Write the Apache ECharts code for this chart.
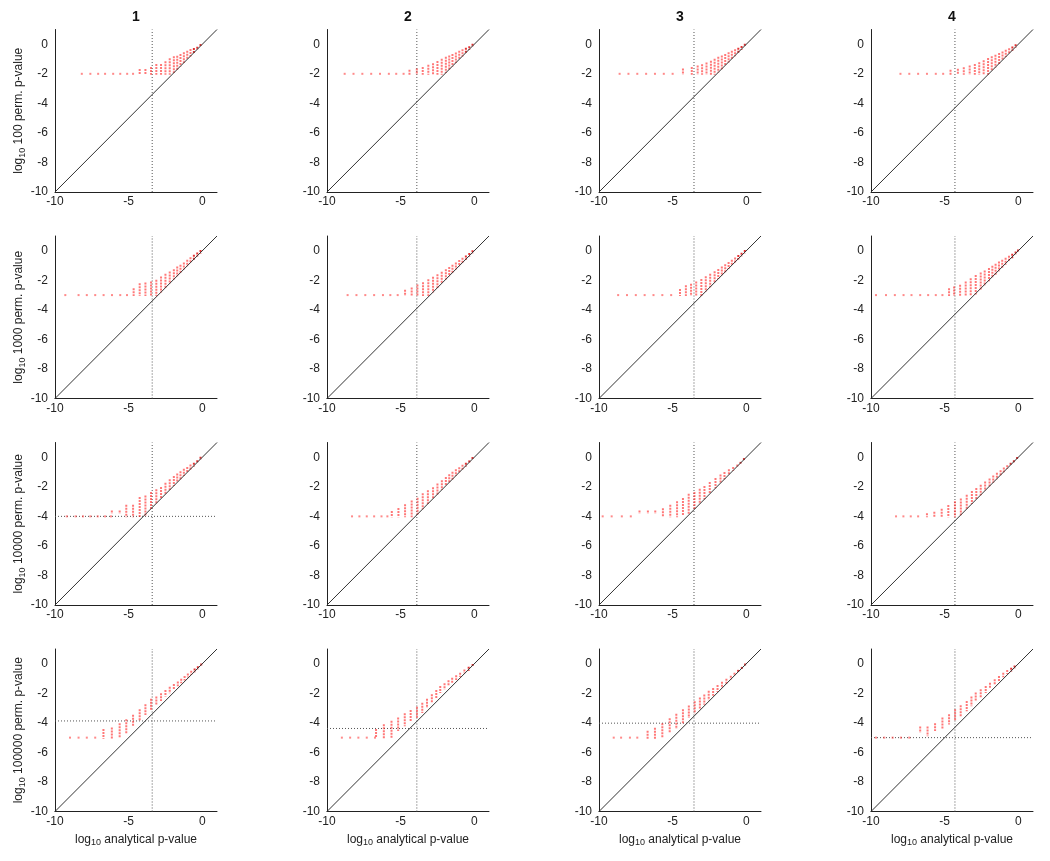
<!DOCTYPE html>
<html>
<head>
<meta charset="utf-8">
<script src="https://cdn.jsdelivr.net/npm/echarts@6/dist/echarts.min.js"></script>
<style>html,body{margin:0;padding:0;background:#fff}#c{width:1050px;height:861px}</style>
</head>
<body>
<div id="c"></div>
<script>
// ---------- data ----------
const colTitles = ['1', '2', '3', '4'];
const permLabels = ['100', '1000', '10000', '100000'];
const xTicks = [-10, -5, 0];
const yTicks = [-10, -8, -6, -4, -2, 0];
const floorY = [-2, -3, -4, -5];               // log10(1/N) per row
const vLineX = [-3.4, -3.9, -3.55, -4.3];      // vertical dotted line per column
const hLineY = [                               // horizontal dotted line per panel (null = none)
  [null, null, null, null],
  [null, null, null, null],
  [-4.0, null, null, null],
  [-3.87, -4.38, -4.02, -5.0]
];
const diagLine = [[-10, -10], [1, 1]];

// Row 1 (100 permutations)
const r1c1_x  = [-4.25,-3.86,-3.48,-3.12,-2.8,-2.5,-2.21,-1.93,-1.7,-1.48,-1.25,-1.02,-0.8,-0.57,-0.34,-0.12];
const r1c1_lo = [-2,-2,-2,-2,-2,-2,-2,-1.88,-1.65,-1.44,-1.2,-0.98,-0.76,-0.54,-0.32,-0.12];
const r1c1_hi = [-1.74,-1.74,-1.6,-1.4,-1.4,-1.22,-1.02,-0.88,-0.84,-0.72,-0.61,-0.5,-0.39,-0.32,-0.23,-0.05];
const r1c1_fx = [-8.18,-7.6,-7.07,-6.6,-6.05,-5.57,-5.1,-4.7];

const r1c2_x  = [-4.4,-3.9,-3.5,-3.12,-2.8,-2.5,-2.21,-1.93,-1.7,-1.48,-1.25,-1.02,-0.8,-0.57,-0.34,-0.12];
const r1c2_lo = [-2,-2,-2,-2,-2,-2,-2,-1.88,-1.65,-1.44,-1.2,-0.98,-0.76,-0.54,-0.32,-0.12];
const r1c2_hi = [-1.8,-1.7,-1.6,-1.45,-1.35,-1.2,-1.05,-0.92,-0.82,-0.72,-0.62,-0.5,-0.4,-0.3,-0.2,-0.04];
const r1c2_fx = [-8.8,-8.2,-7.6,-7.0,-6.4,-5.8,-5.3,-4.8];

const r1c3_x  = [-4.3,-3.7,-3.3,-3.0,-2.7,-2.4,-2.15,-1.9,-1.66,-1.43,-1.2,-0.98,-0.76,-0.54,-0.32,-0.1];
const r1c3_lo = [-2,-2,-2,-2,-2,-2,-2,-1.85,-1.62,-1.4,-1.17,-0.95,-0.74,-0.52,-0.31,-0.1];
const r1c3_hi = [-1.7,-1.6,-1.5,-1.42,-1.3,-1.18,-1.05,-0.92,-0.82,-0.72,-0.6,-0.5,-0.4,-0.3,-0.18,-0.03];
const r1c3_fx = [-8.6,-8.0,-7.4,-6.8,-6.2,-5.6,-5.0];

const r1c4_x  = [-4.6,-4.1,-3.7,-3.3,-2.95,-2.65,-2.35,-2.05,-1.8,-1.55,-1.3,-1.07,-0.85,-0.62,-0.4,-0.18];
const r1c4_lo = [-2,-2,-2,-2,-2,-2,-2,-2,-1.75,-1.5,-1.26,-1.03,-0.8,-0.58,-0.37,-0.16];
const r1c4_hi = [-1.8,-1.72,-1.62,-1.5,-1.4,-1.28,-1.15,-1.0,-0.88,-0.78,-0.66,-0.55,-0.44,-0.33,-0.22,-0.06];
const r1c4_fx = [-8.0,-7.4,-6.8,-6.2,-5.6,-5.1];

// Row 2 (1000 permutations)
const r2c1_x  = [-4.66,-4.25,-3.86,-3.48,-3.12,-2.8,-2.5,-2.21,-1.93,-1.7,-1.48,-1.25,-1.02,-0.8,-0.57,-0.34,-0.12];
const r2c1_lo = [-3,-3,-3,-3,-3,-2.75,-2.45,-2.16,-1.88,-1.65,-1.44,-1.2,-0.98,-0.76,-0.54,-0.32,-0.12];
const r2c1_hi = [-2.6,-2.26,-2.21,-2.15,-2.03,-1.81,-1.63,-1.47,-1.31,-1.13,-1.02,-0.86,-0.68,-0.5,-0.34,-0.18,-0.02];
const r2c1_fx = [-9.3,-8.4,-7.84,-7.27,-6.7,-6.13,-5.57,-5.11];

const r2c2_x  = [-4.7,-4.25,-3.86,-3.48,-3.12,-2.8,-2.5,-2.21,-1.93,-1.7,-1.48,-1.25,-1.02,-0.8,-0.57,-0.34,-0.12];
const r2c2_lo = [-3,-3,-3,-3,-3,-2.75,-2.45,-2.16,-1.88,-1.65,-1.44,-1.2,-0.98,-0.76,-0.54,-0.32,-0.12];
const r2c2_hi = [-2.7,-2.55,-2.35,-2.2,-2.0,-1.82,-1.65,-1.48,-1.32,-1.16,-1.02,-0.86,-0.7,-0.54,-0.38,-0.22,-0.03];
const r2c2_fx = [-8.6,-8.0,-7.4,-6.8,-6.2,-5.7,-5.2];

const r2c3_x  = [-4.5,-4.1,-3.75,-3.4,-3.05,-2.75,-2.45,-2.15,-1.9,-1.66,-1.43,-1.2,-0.98,-0.76,-0.54,-0.32,-0.1];
const r2c3_lo = [-3,-3,-3,-3,-3,-2.7,-2.4,-2.1,-1.85,-1.62,-1.4,-1.17,-0.95,-0.74,-0.52,-0.31,-0.1];
const r2c3_hi = [-2.65,-2.4,-2.3,-2.15,-1.98,-1.8,-1.62,-1.45,-1.3,-1.14,-0.98,-0.83,-0.68,-0.52,-0.36,-0.2,-0.02];
const r2c3_fx = [-8.7,-8.1,-7.5,-6.9,-6.3,-5.7,-5.1];

const r2c4_x  = [-4.7,-4.36,-3.95,-3.57,-3.23,-2.89,-2.55,-2.28,-1.99,-1.76,-1.54,-1.31,-1.09,-0.86,-0.63,-0.41,-0.18,-0.02];
const r2c4_lo = [-3,-3,-3,-3,-3,-2.9,-2.55,-2.3,-2.0,-1.78,-1.55,-1.32,-1.1,-0.88,-0.65,-0.43,-0.2,-0.04];
const r2c4_hi = [-2.6,-2.49,-2.37,-2.15,-1.92,-1.7,-1.54,-1.4,-1.24,-1.08,-0.95,-0.79,-0.68,-0.54,-0.41,-0.27,-0.11,0.02];
const r2c4_fx = [-9.66,-8.98,-8.38,-7.79,-7.25,-6.66,-6.12,-5.6,-5.15];

// Row 3 (10000 permutations)
const r3c1_x  = [-6.14,-5.61,-5.16,-4.7,-4.25,-3.86,-3.48,-3.12,-2.8,-2.5,-2.21,-1.93,-1.7,-1.48,-1.25,-1.02,-0.8,-0.57,-0.34,-0.12];
const r3c1_lo = [-3.75,-3.75,-4.0,-4.0,-4.0,-3.9,-3.5,-3.1,-2.75,-2.45,-2.15,-1.88,-1.62,-1.42,-1.2,-0.98,-0.76,-0.55,-0.33,-0.12];
const r3c1_hi = [-3.67,-3.67,-3.28,-3.28,-2.76,-2.65,-2.42,-2.24,-2.08,-1.79,-1.56,-1.33,-1.17,-1.02,-0.84,-0.72,-0.56,-0.43,-0.27,-0.04];
const r3c1_fx = [-9.2,-8.6,-8.1,-7.6,-7.1,-6.6,-6.2];

const r3c2_x  = [-5.6,-5.15,-4.7,-4.25,-3.85,-3.5,-3.15,-2.8,-2.5,-2.2,-1.93,-1.7,-1.48,-1.25,-1.02,-0.8,-0.57,-0.34,-0.12];
const r3c2_lo = [-4,-4,-4,-4,-3.8,-3.45,-3.1,-2.75,-2.45,-2.15,-1.88,-1.65,-1.44,-1.2,-0.98,-0.76,-0.55,-0.33,-0.12];
const r3c2_hi = [-3.7,-3.5,-3.25,-3.0,-2.8,-2.5,-2.3,-2.1,-1.85,-1.62,-1.4,-1.22,-1.05,-0.88,-0.74,-0.58,-0.44,-0.28,-0.05];
const r3c2_fx = [-8.3,-7.8,-7.3,-6.8,-6.3,-5.9];

const r3c3_x  = [-7.25,-6.68,-6.18,-5.66,-5.16,-4.7,-4.3,-3.91,-3.52,-3.16,-2.84,-2.48,-2.09,-1.75,-1.48,-1.18,-0.89,-0.61,-0.39,-0.16];
const r3c3_lo = [-3.75,-3.75,-3.75,-4,-4,-4,-3.9,-3.8,-3.45,-3.1,-2.78,-2.42,-2.03,-1.7,-1.42,-1.13,-0.85,-0.58,-0.36,-0.15];
const r3c3_hi = [-3.67,-3.67,-3.67,-3.51,-3.28,-3.05,-2.83,-2.53,-2.42,-2.19,-2.01,-1.74,-1.47,-1.24,-1.06,-0.88,-0.72,-0.56,-0.38,-0.12];
const r3c3_fx = [-9.75,-9.14,-8.45,-7.84];

const r3c4_x  = [-6.2,-5.7,-5.2,-4.75,-4.3,-3.9,-3.5,-3.15,-2.85,-2.55,-2.25,-1.95,-1.7,-1.45,-1.2,-0.98,-0.75,-0.52,-0.3,-0.08];
const r3c4_lo = [-4,-4,-4,-4,-4,-3.85,-3.45,-3.1,-2.8,-2.5,-2.2,-1.9,-1.65,-1.42,-1.17,-0.95,-0.73,-0.5,-0.3,-0.08];
const r3c4_hi = [-3.85,-3.75,-3.55,-3.3,-3.05,-2.85,-2.6,-2.35,-2.15,-1.92,-1.7,-1.5,-1.3,-1.12,-0.94,-0.76,-0.6,-0.44,-0.27,-0.05];
const r3c4_fx = [-8.3,-7.8,-7.3,-6.8];

// Row 4 (100000 permutations)
const r4c1_x  = [-6.71,-6.14,-5.61,-5.16,-4.7,-4.25,-3.86,-3.48,-3.12,-2.8,-2.5,-2.21,-1.93,-1.66,-1.43,-1.2,-0.98,-0.75,-0.52,-0.3,-0.07];
const r4c1_lo = [-5.0,-5.0,-4.9,-4.7,-4.2,-3.75,-3.4,-3.05,-2.75,-2.45,-2.15,-1.92,-1.68,-1.46,-1.25,-1.06,-0.86,-0.68,-0.5,-0.32,-0.1];
const r4c1_hi = [-4.49,-4.38,-4.09,-3.82,-3.51,-3.15,-2.81,-2.43,-2.29,-2.07,-1.84,-1.62,-1.44,-1.26,-1.08,-0.9,-0.72,-0.54,-0.38,-0.23,-0.05];
const r4c1_fx = [-8.98,-8.4,-7.84,-7.27];

const r4c2_x  = [-6.67,-6.14,-5.62,-5.17,-4.72,-4.32,-3.89,-3.53,-3.21,-2.88,-2.58,-2.31,-2.02,-1.75,-1.5,-1.23,-0.96,-0.67,-0.38,-0.11];
const r4c2_lo = [-4.94,-5.0,-4.94,-4.49,-4.16,-3.82,-3.6,-3.26,-2.92,-2.58,-2.25,-1.91,-1.68,-1.46,-1.24,-1.03,-0.83,-0.58,-0.4,-0.15];
const r4c2_hi = [-4.49,-4.16,-3.93,-3.71,-3.42,-3.19,-2.97,-2.7,-2.43,-2.13,-1.84,-1.57,-1.39,-1.19,-1.01,-0.85,-0.67,-0.45,-0.27,-0.08];
const r4c2_fx = [-8.99,-8.43,-7.87,-7.3,-6.74];

const r4c3_x  = [-6.7,-6.2,-5.7,-5.2,-4.75,-4.3,-3.9,-3.5,-3.15,-2.85,-2.55,-2.25,-1.95,-1.65,-1.35,-1.05,-0.8,-0.55,-0.3,-0.08];
const r4c3_lo = [-5,-5,-4.9,-4.6,-4.35,-4.0,-3.6,-3.3,-3.0,-2.7,-2.4,-2.1,-1.85,-1.58,-1.3,-1.0,-0.76,-0.52,-0.3,-0.08];
const r4c3_hi = [-4.6,-4.4,-4.1,-3.75,-3.45,-3.15,-2.9,-2.6,-2.35,-2.15,-1.9,-1.7,-1.5,-1.28,-1.08,-0.88,-0.68,-0.48,-0.28,-0.05];
const r4c3_fx = [-9.0,-8.5,-7.9,-7.4];

const r4c4_x  = [-6.66,-6.16,-5.65,-5.15,-4.7,-4.29,-3.91,-3.5,-3.18,-2.89,-2.55,-2.21,-1.92,-1.6,-1.31,-1.02,-0.75,-0.48,-0.25];
const r4c4_lo = [-4.6,-4.83,-4.49,-4.38,-4.04,-3.82,-3.49,-3.15,-2.81,-2.47,-2.2,-1.91,-1.62,-1.35,-1.12,-0.85,-0.63,-0.45,-0.27];
const r4c4_hi = [-4.31,-4.31,-4.09,-3.71,-3.49,-3.15,-2.88,-2.58,-2.29,-2.02,-1.8,-1.57,-1.35,-1.12,-0.9,-0.67,-0.49,-0.34,-0.18];
const r4c4_fx = [-9.66,-9.1,-8.53,-7.97,-7.4];

const panels = [
  [[r1c1_x,r1c1_lo,r1c1_hi,r1c1_fx],[r1c2_x,r1c2_lo,r1c2_hi,r1c2_fx],[r1c3_x,r1c3_lo,r1c3_hi,r1c3_fx],[r1c4_x,r1c4_lo,r1c4_hi,r1c4_fx]],
  [[r2c1_x,r2c1_lo,r2c1_hi,r2c1_fx],[r2c2_x,r2c2_lo,r2c2_hi,r2c2_fx],[r2c3_x,r2c3_lo,r2c3_hi,r2c3_fx],[r2c4_x,r2c4_lo,r2c4_hi,r2c4_fx]],
  [[r3c1_x,r3c1_lo,r3c1_hi,r3c1_fx],[r3c2_x,r3c2_lo,r3c2_hi,r3c2_fx],[r3c3_x,r3c3_lo,r3c3_hi,r3c3_fx],[r3c4_x,r3c4_lo,r3c4_hi,r3c4_fx]],
  [[r4c1_x,r4c1_lo,r4c1_hi,r4c1_fx],[r4c2_x,r4c2_lo,r4c2_hi,r4c2_fx],[r4c3_x,r4c3_lo,r4c3_hi,r4c3_fx],[r4c4_x,r4c4_lo,r4c4_hi,r4c4_fx]]
];

// ---------- layout ----------
const FONT = '"Liberation Sans", Arial, sans-serif';
const GL = 55, GDX = 272, GT = 29.5, GDY = 206.5, GW = 162, GH = 162.5;
const richLbl = {
  n: { fontSize: 12, fontFamily: FONT, color: '#222', lineHeight: 16, verticalAlign: 'middle' },
  s: { fontSize: 9, fontFamily: FONT, color: '#222', lineHeight: 16, verticalAlign: 'bottom' }
};

const grids = [], xAxes = [], yAxes = [], series = [], graphics = [];

for (let r = 0; r < 4; r++) {
  for (let c = 0; c < 4; c++) {
    const idx = r * 4 + c;
    const [xs, lo, hi, fx] = panels[r][c];
    grids.push({ left: GL + GDX * c, top: GT + GDY * r, width: GW, height: GH });
    xAxes.push({
      gridIndex: idx, type: 'value', min: -10, max: 1, interval: 5,
      axisLine: { show: true, onZero: false, lineStyle: { color: '#222', width: 1 } },
      axisTick: { show: false }, splitLine: { show: false },
      axisLabel: { showMaxLabel: false, margin: 4, color: '#222', fontSize: 12, fontFamily: FONT,
        formatter: v => xTicks.includes(v) ? String(v) : '' },
      name: r === 3 ? '{n|log}{s|10}{n| analytical p-value}' : '',
      nameLocation: 'middle', nameGap: 20,
      nameTextStyle: { rich: richLbl }
    });
    yAxes.push({
      gridIndex: idx, type: 'value', min: -10, max: 1, interval: 2,
      axisLine: { show: true, onZero: false, lineStyle: { color: '#222', width: 1 } },
      axisTick: { show: false }, splitLine: { show: false },
      axisLabel: { showMaxLabel: false, margin: 7, color: '#222', fontSize: 12, fontFamily: FONT,
        formatter: v => yTicks.includes(v) ? String(v) : '' },
      name: c === 0 ? '{n|log}{s|10}{n| ' + permLabels[r] + ' perm. p-value}' : '',
      nameLocation: 'middle', nameGap: 28, nameRotate: 90,
      nameTextStyle: { rich: richLbl }
    });

    // red columns of permutation p-values
    series.push({
      type: 'custom', xAxisIndex: idx, yAxisIndex: idx, silent: true, z: 3,
      data: xs.map((x, i) => [x, lo[i], hi[i]]),
      renderItem: (params, api) => {
        const x = api.value(0);
        const pTop = api.coord([x, api.value(2)]);
        const pBot = api.coord([x, api.value(1)]);
        const dark = x > -0.6;
        return {
          type: 'line',
          shape: { x1: pTop[0], y1: pTop[1] - 1, x2: pBot[0], y2: pBot[1] + 1 },
          style: { stroke: dark ? 'rgba(220,0,0,0.8)' : 'rgba(255,30,30,0.6)', lineWidth: 2, lineDash: [2, 1] }
        };
      }
    });
    // floor dots
    series.push({
      type: 'scatter', xAxisIndex: idx, yAxisIndex: idx, silent: true, z: 3,
      symbol: 'rect', symbolSize: [2, 2],
      itemStyle: { color: 'rgba(255,60,60,0.75)' },
      data: fx.map(x => [x, floorY[r]])
    });
    // diagonal
    series.push({
      type: 'line', xAxisIndex: idx, yAxisIndex: idx, silent: true, z: 4,
      symbol: 'none', data: diagLine,
      lineStyle: { color: '#333', width: 1 }
    });
    // vertical dotted threshold
    series.push({
      type: 'line', xAxisIndex: idx, yAxisIndex: idx, silent: true, z: 2,
      symbol: 'none', data: [[vLineX[c], -10], [vLineX[c], 1]],
      lineStyle: { color: '#555', width: 1, type: [1, 2] }
    });
    if (hLineY[r][c] !== null) {
      series.push({
        type: 'line', xAxisIndex: idx, yAxisIndex: idx, silent: true, z: 2,
        symbol: 'none', data: [[-10, hLineY[r][c]], [1, hLineY[r][c]]],
        lineStyle: { color: '#555', width: 1, type: [1, 2] }
      });
    }
  }
}

for (let c = 0; c < 4; c++) {
  graphics.push({
    type: 'text', x: GL + GDX * c + GW / 2, y: 17,
    style: { text: colTitles[c], fontSize: 14, fontWeight: 'bold', fontFamily: FONT, fill: '#111',
      textAlign: 'center', textVerticalAlign: 'middle' }
  });
}

const chart = echarts.init(document.getElementById('c'), null, { renderer: 'canvas' });
chart.setOption({
  animation: false,
  backgroundColor: '#fff',
  grid: grids, xAxis: xAxes, yAxis: yAxes, series: series, graphic: graphics
});
</script>
</body>
</html>
